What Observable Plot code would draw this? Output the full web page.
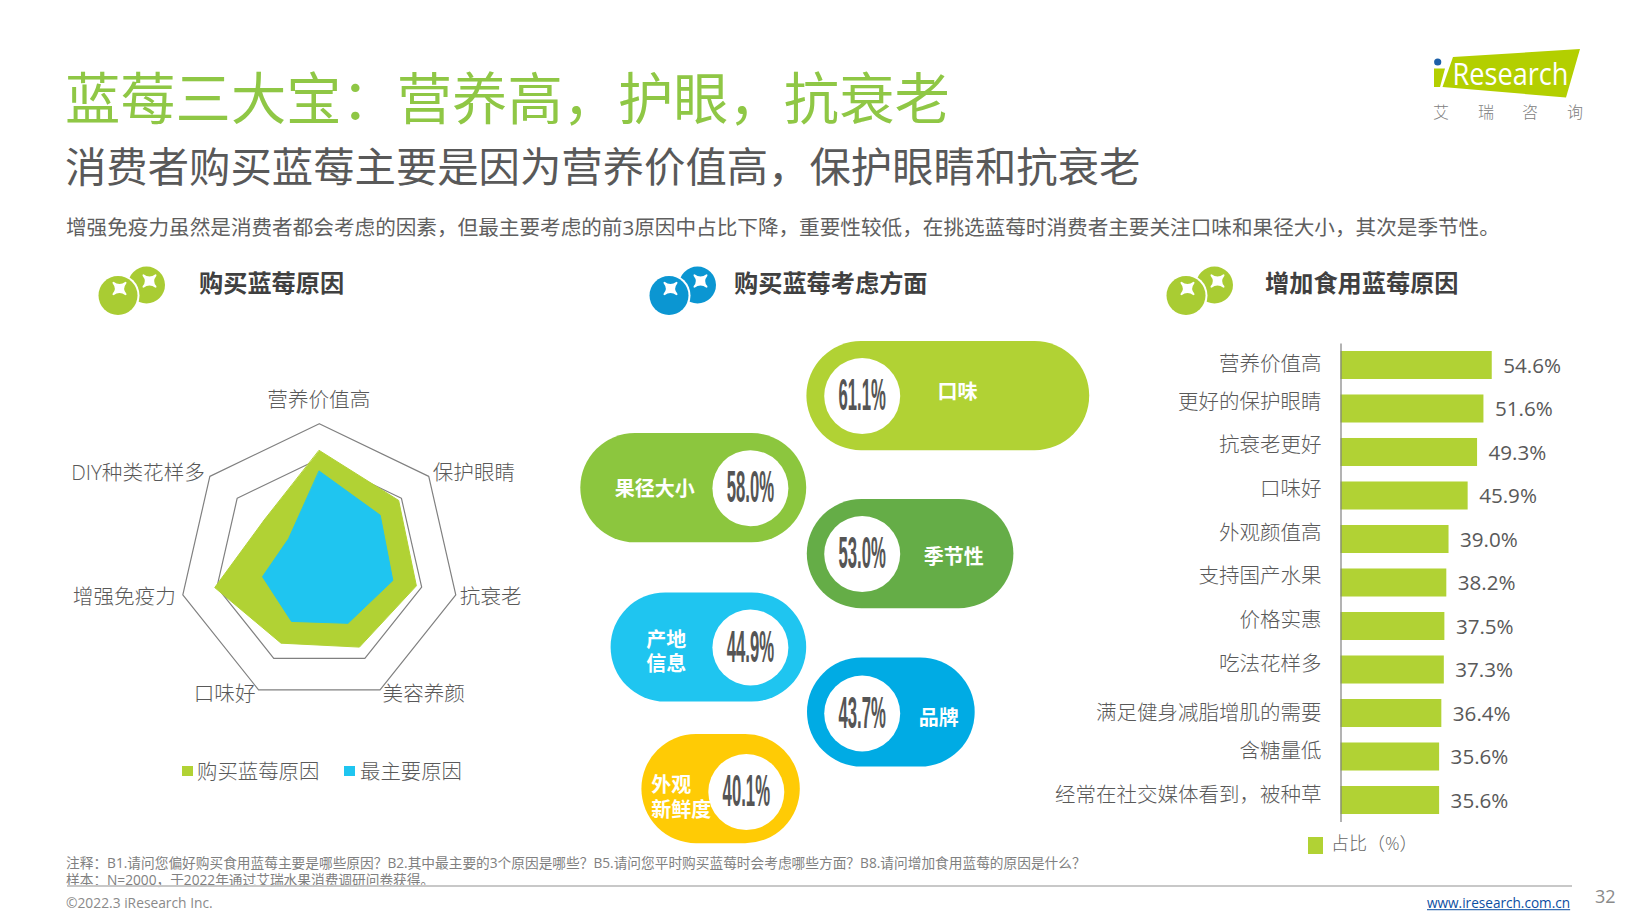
<!DOCTYPE html>
<html lang="zh">
<head>
<meta charset="utf-8">
<title>蓝莓三大宝</title>
<script src="https://cdn.jsdelivr.net/npm/d3@7"></script>
<script src="https://cdn.jsdelivr.net/npm/@observablehq/plot@0.6"></script>
<style>
html,body{margin:0;padding:0;background:#fff;width:1644px;height:920px;overflow:hidden}
#page{position:relative;width:1644px;height:920px;font-family:"Open Sans","Noto Sans CJK SC",sans-serif}
.t{position:absolute;white-space:nowrap;line-height:1;transform:translateY(-50%)}
.sw{position:absolute}
</style>
</head>
<body>
<div id="page"></div>
<script>
// ---- data ----
const radarAxes = ["营养价值高","保护眼睛","抗衰老","美容养颜","口味好","增强免疫力","DIY种类花样多"];
const radarAll  = [64.7,58.0,56.9,52.9,50.4,61.3,40.2];
const radarMain = [52.9,44.5,43.1,37.8,36.6,33.3,22.6];
const ringLevels = [20,40,60,80];

const capsuleNames  = ["口味","果径大小","季节性","产地\n信息","品牌","外观\n新鲜度"];
const capsuleValues = [61.1,58.0,53.0,44.9,43.7,40.1];
const capsuleSides  = [1,-1,1,-1,1,-1];

const barCats = ["营养价值高","更好的保护眼睛","抗衰老更好","口味好","外观颜值高","支持国产水果","价格实惠","吃法花样多","满足健身减脂增肌的需要","含糖量低","经常在社交媒体看到，被种草"];
const barValues = [54.6,51.6,49.3,45.9,39.0,38.2,37.5,37.3,36.4,35.6,35.6];

const fam = '"Open Sans","Noto Sans CJK SC",sans-serif';
const LIME="#b1d234", SKY="#1fc5f0", TXT="#595959";
const page = document.getElementById("page");

function put(text,x,y,size,color,extra={}){
  const d=document.createElement("div");d.className="t";d.textContent=text;
  Object.assign(d.style,{left:x+"px",top:y+"px",fontSize:size+"px",color},extra);
  page.appendChild(d);return d;
}
function swatch(x,y,w,h,c){
  const d=document.createElement("div");d.className="sw";
  Object.assign(d.style,{left:x+"px",top:y+"px",width:w+"px",height:h+"px",background:c});
  page.appendChild(d);
}
function place(left,top){return {position:"absolute",left:left+"px",top:top+"px",background:"transparent",maxWidth:"none",overflow:"visible",fontFamily:fam};}

// ---- header ----
put("蓝莓三大宝：营养高，护眼，抗衰老",65,98,55.3,"#8fc745",{fontWeight:400});
put("消费者购买蓝莓主要是因为营养价值高，保护眼睛和抗衰老",65,166.5,41.36,TXT,{fontWeight:400});
put("增强免疫力虽然是消费者都会考虑的因素，但最主要考虑的前3原因中占比下降，重要性较低，在挑选蓝莓时消费者主要关注口味和果径大小，其次是季节性。",66,227,20.62,"#5f5f5f");
put("购买蓝莓原因",199,283,24.2,"#404040",{fontWeight:700});
put("购买蓝莓考虑方面",734,283,24.2,"#404040",{fontWeight:700});
put("增加食用蓝莓原因",1265,283,24.2,"#404040",{fontWeight:700});

// ---- decorative icons and logo ----
function berry(cx,color){
  const star=(x,y,s)=>`<path transform="translate(${x},${y}) scale(${s})" fill="#fff" d="M-7,-8 Q0,-2.5 7,-8 Q9,-8 8,-6 Q3,0 8,6 Q9,8 7,8 Q0,2.5 -7,8 Q-9,8 -8,6 Q-3,0 -8,-6 Q-9,-8 -7,-8Z"/>`;
  const s=`<svg style="position:absolute;left:${cx-25}px;top:260px" width="80" height="64" viewBox="${cx-25} 260 80 64">
  <circle cx="${cx+28.5}" cy="285" r="18.5" fill="${color}"/>
  <circle cx="${cx}" cy="295.5" r="21.5" fill="#fff"/>
  <circle cx="${cx}" cy="295.5" r="19.5" fill="${color}"/>
  ${star(cx+1.5,288.5,0.85)}${star(cx+31.5,281,0.85)}</svg>`;
  page.insertAdjacentHTML("beforeend",s);
}
berry(118.4,"#a9cc33");berry(668.5,"#0b96d2");berry(1185.5,"#a9cc33");

page.insertAdjacentHTML("beforeend",`<svg style="position:absolute;left:1420px;top:40px" width="180" height="70" viewBox="1420 40 180 70">
<polygon fill="#b3cf00" points="1453,57 1580,49 1566,97.5 1442.5,87"/>
<polygon fill="#b3cf00" points="1434,68.5 1445,68.5 1440,87 1434,87"/>
<circle cx="1437.7" cy="62" r="3.6" fill="#1c5fa8"/>
<text x="1452.5" y="85" font-size="31" fill="#fff" font-family="Open Sans" textLength="116" lengthAdjust="spacingAndGlyphs">Research</text></svg>`);
["艾","瑞","咨","询"].forEach((c,i)=>put(c,[1433,1478,1522,1567][i],111.5,16,"#808080",{fontWeight:300}));

// ---- radar chart ----
const angle = i => 2*Math.PI*i/radarAxes.length;
const pts = vals => vals.map((v,i)=>({axis:radarAxes[i],px:v*Math.sin(angle(i)),py:v*Math.cos(angle(i))}));
const rings = ringLevels.flatMap(l => pts(radarAxes.map(()=>l)).map(p=>({...p,level:l})));
const labelPts = pts(radarAxes.map(()=>d3.max(ringLevels)));
const labelLayout = [
  {textAnchor:"middle",dx:-0.5,dy:-23},{textAnchor:"start",dx:4,dy:-3},{textAnchor:"start",dx:4,dy:2.5},
  {textAnchor:"start",dx:2.5,dy:5},{textAnchor:"end",dx:-3,dy:5},{textAnchor:"end",dx:-7,dy:2.5},{textAnchor:"end",dx:-5,dy:-3}
];
const RCX=278.8,RCY=193.2,RU=1.75*100;
page.appendChild(Plot.plot({
  width:490,height:410,margin:0,style:place(40,370),
  x:{domain:[-100,100],range:[RCX-RU,RCX+RU],axis:null},
  y:{domain:[-100,100],range:[RCY+RU,RCY-RU],axis:null},
  marks:[
    Plot.line(rings,{x:"px",y:"py",z:"level",curve:"linear-closed",stroke:"#808080",strokeWidth:1.2,fill:"none"}),
    Plot.line(pts(radarAll),{x:"px",y:"py",curve:"linear-closed",fill:LIME,stroke:LIME,strokeWidth:1}),
    Plot.line(pts(radarMain),{x:"px",y:"py",curve:"linear-closed",fill:SKY,stroke:SKY,strokeWidth:1}),
    ...labelPts.map((p,i)=>Plot.text([p],{x:"px",y:"py",text:"axis",fontSize:20.6,fill:TXT,fontWeight:300,...labelLayout[i]}))
  ]
}));
swatch(182.3,766,10.4,10.4,LIME);put("购买蓝莓原因",197,771,20.4,TXT,{fontWeight:300});
swatch(344.3,766,10.4,10.4,SKY);put("最主要原因",360,771,20.4,TXT,{fontWeight:300});

// ---- capsule chart ----
const capsuleColors=["#b1d234","#8cc63e","#65ad47","#1fc5f0","#00abe4","#ffcb05"];
const capsules=capsuleNames.map((name,i)=>({name,value:capsuleValues[i],side:capsuleSides[i],signed:capsuleValues[i]*capsuleSides[i],pct:capsuleValues[i].toFixed(1)+"%",color:capsuleColors[i]}));
const SP=236.2, CH=54.6;
const capLen=[282.8,225.9,206.6,195.6,167.7,158.4];
const asc=[...capsuleValues].reverse(), ascLen=[...capLen].reverse();
const circleDx=[55.5,-56.3,55.5,-56.3,55.5,-60.4], circleDy=[0,0,0,0,1,3];
const capSvg=Plot.plot({
  width:540,height:530,margin:0,style:place(570,330),
  x:{type:"linear",domain:[...asc.map(v=>-v).reverse(),0,...asc],range:[...ascLen.map(l=>SP-l).reverse(),SP,...ascLen.map(l=>SP+l)],axis:null},
  y:{type:"linear",domain:capsuleValues,range:[65.6,157.7,223.6,317,382,458.6],axis:null},
  marks:[
    ...capsules.map((c,i)=>Plot.rect([c],{x1:()=>0,x2:"signed",y1:"value",y2:"value",fill:"color",rx:CH,insetTop:-CH,insetBottom:-CH,dx:[0.2,0,0.6,0,0.8,-6.4][i]})),
    ...capsules.map((c,i)=>Plot.dot([c],{x:()=>0,y:"value",r:38,fill:"#fff",dx:circleDx[i],dy:circleDy[i]})),
    ...capsules.map((c,i)=>Plot.text([c],{x:()=>0,y:"value",text:"pct",fontSize:44,fontWeight:700,fontFamily:"Liberation Sans",fill:"#555",dx:circleDx[i],dy:circleDy[i]})),
    ...capsules.map((c,i)=>Plot.text([c],{x:()=>0,y:"value",text:"name",fontSize:20,fontWeight:700,fill:"#fff",lineHeight:1.23,
      textAnchor:i===5?"start":"middle",
      dx:[150.8,-152,147,-140.4,132,-155.4][i],dy:[-5.4,0,2.2,3.7,5,7.5][i]}))
  ]
});
// the percentage figures are set in a tall condensed face: squeeze them horizontally
capSvg.querySelectorAll("text").forEach(t=>{
  if(/%$/.test(t.textContent)){
    const tr=t.getAttribute("transform")||"";
    t.setAttribute("transform",tr+" scale(0.38,1)");
  }
});
page.appendChild(capSvg);

// ---- bar chart ----
const bars=barCats.map((cat,i)=>({cat,value:barValues[i],label:barValues[i].toFixed(1)+"%"}));
const catDy=[-1.2,-6.5,-7,-6.6,-6.2,-6.4,-6,-5.5,0,-5.6,-5.2];
page.appendChild(Plot.plot({
  width:594,height:530,marginTop:13.5,marginBottom:38,marginLeft:0,marginRight:0,style:place(1050,330),
  x:{domain:[0,80],range:[290.5,290.5+2.77*80],axis:null},
  y:{domain:barCats,range:[5.5,499.5],padding:0.356,round:false,axis:null},
  marks:[
    Plot.barX(bars,{x:"value",y:"cat",fill:LIME}),
    Plot.ruleX([0],{stroke:"#808080",strokeWidth:1.2}),
    Plot.text(bars,{x:"value",y:"cat",text:"label",textAnchor:"start",dx:11,dy:0.7,fontSize:20.6,fill:TXT}),
    ...bars.map((b,i)=>Plot.text([b],{x:()=>0,y:"cat",text:"cat",textAnchor:"end",dx:-19.5,dy:catDy[i],fontSize:20.5,fill:TXT,fontWeight:300}))
  ]
}));
swatch(1308,837,14.7,16.7,LIME);put("占比（%）",1331,843,18,"#666",{fontWeight:300});

// ---- footer ----
put("注释：B1.请问您偏好购买食用蓝莓主要是哪些原因？B2.其中最主要的3个原因是哪些？B5.请问您平时购买蓝莓时会考虑哪些方面？B8.请问增加食用蓝莓的原因是什么？",66,863,13.7,"#808080");
put("样本：N=2000，于2022年通过艾瑞水果消费调研问卷获得。",66,880,13.7,"#808080");
swatch(67,885,1505,1.5,"#c8c8c8");
put("©2022.3 iResearch Inc.",66,903,13.8,"#8a8a8a");
put("www.iresearch.com.cn",1427,903,13.6,"#0b4ea2",{textDecoration:"underline"});
put("32",1595,896,18,"#8a8a8a");
</script>
</body>
</html>
